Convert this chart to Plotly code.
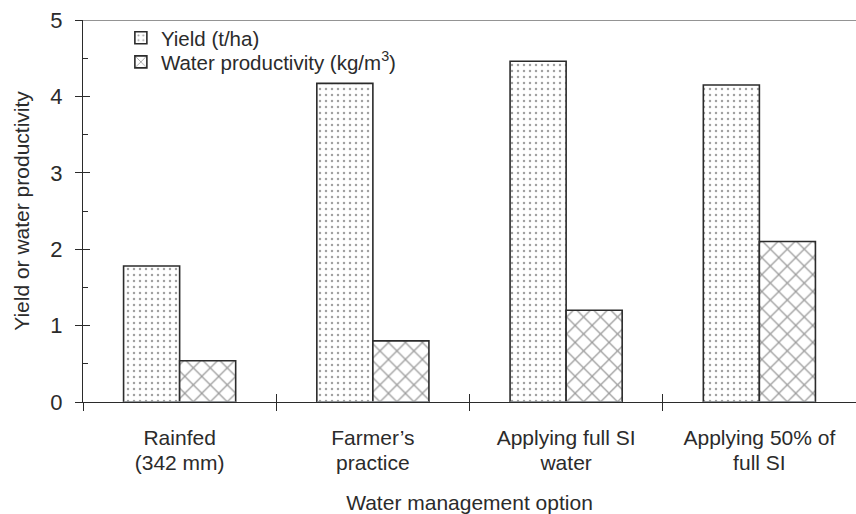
import plotly.graph_objects as go

# Water management options (x categories), each label split over two lines
label_line1 = ["Rainfed", "Farmer\u2019s", "Applying full SI", "Applying 50% of"]
label_line2 = ["(342 mm)", "practice", "water", "full SI"]
options = [a + " " + b for a, b in zip(label_line1, label_line2)]

yield_t_ha = [1.78, 4.17, 4.46, 4.15]
water_prod = [0.54, 0.80, 1.20, 2.10]

FONT = "Liberation Sans, Arial, Helvetica, sans-serif"
INK = "#2b2b2b"

fig = go.Figure()
fig.add_trace(go.Bar(
    x=options, y=yield_t_ha, name="Yield (t/ha)", legend="legend",
    marker=dict(color="white", line=dict(color=INK, width=1.6),
                pattern=dict(shape=".", size=6, solidity=0.14,
                             fgcolor="#444444", bgcolor="white")),
))
fig.add_trace(go.Bar(
    x=options, y=water_prod, name="Water productivity (kg/m<sup>3</sup>)",
    legend="legend2",
    marker=dict(color="white", line=dict(color=INK, width=1.6),
                pattern=dict(shape="x", size=12, solidity=0.2,
                             fgcolor="#3a3a3a", bgcolor="white")),
))
# invisible trace carrying the inner tick axes
fig.add_trace(go.Bar(x=options, y=[0, 0, 0, 0], xaxis="x2", yaxis="y2",
                     showlegend=False, hoverinfo="skip",
                     marker=dict(color="rgba(0,0,0,0)")))

legend_style = dict(xanchor="left", yanchor="middle",
                    font=dict(size=20.5, color=INK, family=FONT),
                    bgcolor="rgba(0,0,0,0)", itemwidth=30)

fig.update_layout(
    width=856, height=514,
    margin=dict(l=83, r=0, t=20, b=112),
    paper_bgcolor="white", plot_bgcolor="white",
    barmode="group", bargap=0.42, bargroupgap=0,
    font=dict(family=FONT, color=INK),
    showlegend=True,
    legend=dict(x=0.049, y=0.953, **legend_style),
    legend2=dict(x=0.049, y=0.890, **legend_style),
    xaxis=dict(
        type="category", range=[-0.5, 3.5], tickson="boundaries",
        tickmode="array", tickvals=options, ticktext=label_line1,
        ticks="outside", ticklen=8, tickwidth=1.2, tickcolor=INK,
        showline=True, linecolor=INK, linewidth=1.2,
        showgrid=False, zeroline=False, automargin=False,
        tickfont=dict(size=21, color=INK), ticklabelstandoff=17,
    ),
    xaxis2=dict(
        type="category", range=[-0.5, 3.5], overlaying="x", anchor="y",
        side="bottom", tickson="boundaries",
        tickmode="array", tickvals=options, ticktext=label_line2,
        ticks="inside", ticklen=8, tickwidth=1.2, tickcolor=INK,
        showgrid=False, zeroline=False, showline=False, automargin=False,
        tickfont=dict(size=21, color=INK), ticklabelstandoff=46,
        title=dict(text="Water management option", font=dict(size=21),
                   standoff=24),
    ),
    yaxis=dict(
        range=[0, 5], tickvals=[0, 1, 2, 3, 4, 5],
        ticks="outside", ticklen=7, tickwidth=1.2, tickcolor=INK,
        showline=True, linecolor=INK, linewidth=1.2,
        showgrid=False, zeroline=False, automargin=False,
        tickfont=dict(size=22, color=INK), ticklabelstandoff=8,
        title=dict(text="Yield or water productivity",
                   font=dict(size=21), standoff=14),
    ),
    yaxis2=dict(
        range=[0, 5], overlaying="y", anchor="x", side="left",
        tickvals=[0, 1, 2, 3, 4, 5],
        ticks="inside", ticklen=7, tickwidth=1.2, tickcolor=INK,
        minor=dict(tickvals=[0.5, 1.5, 2.5, 3.5, 4.5], ticks="inside",
                   ticklen=5, tickwidth=1.2, tickcolor=INK),
        showticklabels=False, showgrid=False, zeroline=False,
        showline=False, automargin=False,
    ),
)

# upper frame line at the top of the value range
fig.add_shape(type="line", xref="paper", yref="y", x0=0, x1=1, y0=5, y1=5,
              line=dict(color=INK, width=1.2))

fig.write_html("out.html")
